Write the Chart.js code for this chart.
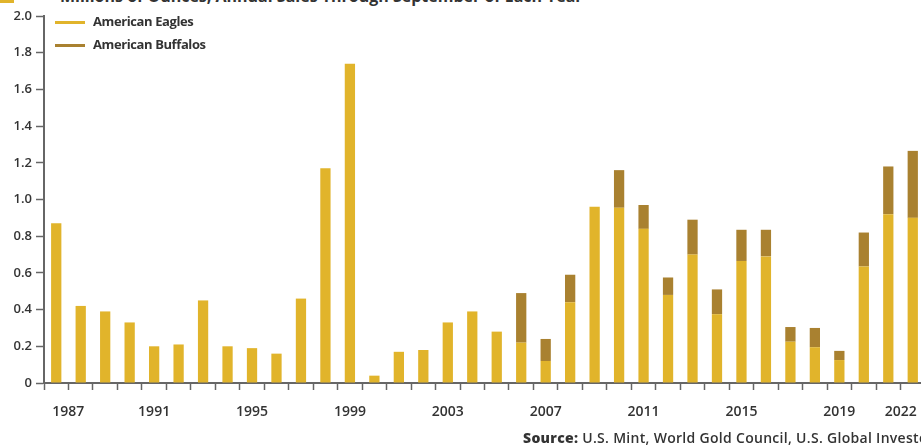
<!DOCTYPE html>
<html>
<head>
<meta charset="utf-8">
<script src="https://cdn.jsdelivr.net/npm/chart.js@4/dist/chart.umd.min.js"></script>
<style>
  body { margin: 0; background: #fff; }
  #wrap { position: relative; width: 921px; height: 445px; overflow: hidden; font-family: "Open Sans", sans-serif; }
  #title { position: absolute; left: 60px; top: -15px; font-size: 16px; font-weight: 700; color: #333; white-space: nowrap; }
  #mark { position: absolute; left: 0; top: 0; width: 14px; height: 3px; background: #E1B42B; }
  #legend { position: absolute; left: 55px; top: 13px; font-size: 13px; font-weight: 700; color: #333; letter-spacing: -0.4px; }
  #legend div { height: 23px; line-height: 17px; }
  #legend span { display: inline-block; width: 30px; height: 3px; vertical-align: middle; margin-right: 8px; }
  #source { position: absolute; left: 523px; top: 428px; font-size: 14px; font-weight: 600; color: #333; white-space: nowrap; letter-spacing: 0.3px; }
  canvas { position: absolute; left: 0; top: 0; }
</style>
</head>
<body>
<div id="wrap">
  <div id="mark"></div>
  <div id="title">Millions of Ounces, Annual Sales Through September of Each Year</div>
  <canvas id="salesChart" width="925" height="445" style="width:925px;height:445px"></canvas>
  <div id="legend">
    <div><span style="background:#E1B42B"></span>American Eagles</div>
    <div><span style="background:#A98130"></span>American Buffalos</div>
  </div>
  <div id="source"><b style="font-weight:800">Source:</b> U.S. Mint, World Gold Council, U.S. Global Investors</div>
</div>
<script>
const years = [];
for (let y = 1987; y <= 2022; y++) years.push(String(y));

const shownYears = ['1987', '1991', '1995', '1999', '2003', '2007', '2011', '2015', '2019', '2022'];

// millions of ounces
const eagles = [
  0.87, 0.42, 0.39, 0.33, 0.20, 0.21, 0.45, 0.20, 0.19, 0.16,
  0.46, 1.17, 1.74, 0.04, 0.17, 0.18, 0.33, 0.39, 0.28, 0.22,
  0.12, 0.44, 0.96, 0.955, 0.84, 0.48, 0.70, 0.375, 0.665, 0.69,
  0.225, 0.195, 0.125, 0.635, 0.92, 0.90
];
const buffalos = [
  0, 0, 0, 0, 0, 0, 0, 0, 0, 0,
  0, 0, 0, 0, 0, 0, 0, 0, 0, 0.27,
  0.12, 0.15, 0, 0.205, 0.13, 0.095, 0.19, 0.135, 0.17, 0.145,
  0.08, 0.105, 0.05, 0.185, 0.26, 0.365
];

const axisColor = '#666';
const textColor = '#333';

new Chart(document.getElementById('salesChart'), {
  type: 'bar',
  data: {
    labels: years,
    datasets: [
      { label: 'American Eagles', data: eagles, backgroundColor: '#E1B42B' },
      { label: 'American Buffalos', data: buffalos, backgroundColor: '#A98130' }
    ]
  },
  options: {
    responsive: false,
    animation: false,
    layout: { padding: { top: 16, right: 0, bottom: 0, left: 0 } },
    datasets: { bar: { barPercentage: 0.42, categoryPercentage: 1 } },
    plugins: {
      legend: { display: false },
      tooltip: { enabled: false }
    },
    scales: {
      x: {
        stacked: true,
        grid: { drawOnChartArea: false, tickLength: 7, tickColor: axisColor, tickWidth: 1.5 },
        border: { color: axisColor, width: 2 },
        ticks: {
          autoSkip: false,
          maxRotation: 0,
          padding: 14,
          color: textColor,
          font: { family: 'Open Sans', size: 14, weight: '600' },
          callback: function (value) {
            const lab = this.getLabelForValue(value);
            if (!shownYears.includes(lab)) return '';
            if (lab === '1987') return '\u2007\u2007\u2007' + lab;
            if (lab === '2022') return lab + '\u2007\u2007\u2007';
            return lab;
          }
        },
        afterFit: function (scale) {
          scale.height = 62;
          scale.paddingLeft = 0;
          scale.paddingRight = 0;
        }
      },
      y: {
        stacked: true,
        min: 0,
        max: 2,
        grid: { drawOnChartArea: false, tickLength: 8, tickColor: axisColor, tickWidth: 1.5 },
        border: { color: axisColor, width: 2 },
        ticks: {
          stepSize: 0.2,
          padding: 4,
          color: textColor,
          font: { family: 'Open Sans', size: 13, weight: '600' },
          callback: v => v === 0 ? '0' : v.toFixed(1)
        },
        afterFit: function (scale) {
          scale.width = 44;
        }
      }
    }
  }
});
</script>
</body>
</html>
